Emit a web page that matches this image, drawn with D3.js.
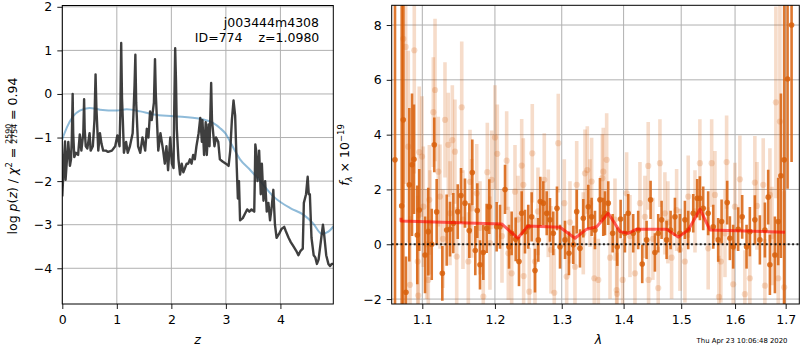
<!DOCTYPE html>
<html><head><meta charset="utf-8">
<script src="https://cdn.jsdelivr.net/npm/d3@7"></script>
<style>body{margin:0;background:#fff} text{font-family:"DejaVu Sans",sans-serif}</style>
</head><body><svg id="c" width="800" height="350"></svg>
<script>
// ---------- data: left panel (redshift PDF) ----------
const zGrid = [0.00,0.03,0.05,0.06,0.08,0.11,0.14,0.16,0.175,0.19,0.20,0.22,0.25,0.29,0.32,0.35,0.385,0.40,0.41,0.43,0.46,0.50,0.52,0.56,0.59,0.61,0.625,0.66,0.69,0.72,0.75,0.80,0.84,0.91,0.97,1.01,1.05,1.065,1.08,1.095,1.11,1.13,1.17,1.20,1.24,1.29,1.31,1.325,1.34,1.355,1.39,1.43,1.47,1.52,1.55,1.58,1.61,1.64,1.68,1.70,1.715,1.76,1.80,1.85,1.88,1.91,1.94,1.98,2.01,2.04,2.05,2.07,2.085,2.10,2.13,2.16,2.19,2.22,2.25,2.28,2.31,2.34,2.37,2.40,2.43,2.46,2.50,2.53,2.56,2.57,2.60,2.63,2.65,2.68,2.70,2.715,2.73,2.745,2.79,2.82,2.86,2.89,2.94,3.00,3.05,3.08,3.11,3.14,3.17,3.20,3.22,3.24,3.26,3.31,3.35,3.39,3.43,3.47,3.52,3.53,3.54,3.555,3.58,3.61,3.64,3.66,3.69,3.72,3.75,3.78,3.81,3.84,3.87,3.90,3.93,3.98,4.02,4.07,4.10,4.15,4.19,4.24,4.29,4.33,4.37,4.41,4.43,4.47,4.50,4.52,4.54,4.57,4.61,4.64,4.67,4.70,4.74,4.78,4.80,4.84,4.88,4.91,4.94,4.97];
const logPz = [-2.35,-1.5,-1.09,-1.97,-1.6,-1.1,-1.65,-1.5,-1.0,0.0,-0.9,-1.45,-1.35,-1.4,-0.93,-1.3,-0.9,-0.12,-0.8,-1.2,-1.25,-0.9,-1.3,-1.2,-0.6,0.45,-0.3,-1.3,-0.9,-1.15,-1.3,-1.3,-1.33,-1.3,-1.2,-0.95,-1.2,-0.4,1.17,-0.1,-0.6,-1.35,-1.1,-1.35,-1.2,-0.9,-0.3,0.2,0.9,-0.2,-1.2,-1.35,-1.0,-1.3,-0.8,-1.0,-0.4,-0.6,-0.2,0.8,0.0,-1.3,-0.9,-1.3,-1.6,-1.2,-1.75,-1.0,-1.6,-1.7,-0.6,1.05,0.3,-0.8,-1.5,-1.85,-1.6,-1.8,-1.7,-1.6,-1.6,-1.5,-1.6,-1.4,-1.5,-1.2,-0.9,-0.55,-1.1,-0.6,-1.4,-0.65,-1.4,-0.7,-1.2,-0.5,0.25,-0.6,-1.2,-1.0,-1.1,-1.5,-1.55,-1.6,-1.65,-1.3,-0.6,-0.15,-0.5,-1.7,-2.4,-2.0,-2.9,-2.85,-2.75,-2.65,-2.7,-2.65,-2.7,-2.0,-1.16,-1.3,-2.0,-1.3,-2.3,-1.6,-2.45,-2.0,-2.7,-2.5,-2.9,-2.6,-2.2,-3.0,-3.3,-3.2,-3.1,-3.05,-3.15,-3.3,-3.4,-3.5,-3.6,-3.7,-3.6,-3.55,-2.5,-2.3,-1.9,-2.3,-2.3,-3.3,-3.7,-3.75,-3.9,-3.8,-3.4,-3.0,-3.2,-3.7,-3.9,-3.95,-3.9,-3.9];
const zSmooth = [0,0.02,0.08,0.2,0.32,0.5,0.69,1.0,1.18,1.43,1.67,2.04,2.53,2.77,2.89,3.0,3.1,3.26,3.45,3.63,3.87,4.18,4.42,4.6,4.76,4.88,4.97];
const logPzSmooth = [-1.05,-0.97,-0.78,-0.51,-0.38,-0.32,-0.36,-0.38,-0.35,-0.40,-0.47,-0.51,-0.57,-0.67,-0.78,-0.92,-1.15,-1.5,-1.75,-2.0,-2.35,-2.62,-2.77,-2.97,-3.21,-3.16,-3.04];
const zTicks = [0,1,2,3,4];
const pzTicks = [-4,-3,-2,-1,0,1,2];

// ---------- data: right panel (spectrum) ----------
const darkLam = [1.0646,1.0732,1.0752,1.0787,1.0830,1.0865,1.0891,1.0934,1.0960,1.1036,
1.1079,1.1125,1.1159,1.1191,1.1267,1.1326,1.1371,1.1416,1.1477,1.1522,
1.1577,1.1637,1.1679,1.1721,1.1749,1.1787,1.1834,1.1882,1.1919,1.2025,
1.2073,1.2146,1.2204,1.2243,1.2302,1.2351,1.2391,1.2440,1.2489,1.2540,
1.2590,1.2640,1.2670,1.2716,1.2768,1.2818,1.2869,1.2926,1.2973,1.3051,
1.3113,1.3181,1.3235,1.3287,1.3340,1.3420,1.3474,1.3528,1.3609,1.3663,
1.3691,1.3745,1.3818,1.3894,1.3950,1.4022,1.4078,1.4162,1.4247,1.4316,
1.4391,1.4460,1.4535,1.4593,1.4652,1.4740,1.4811,1.4888,1.4977,1.5067,
1.5127,1.5218,1.5291,1.5340,1.5401,1.5493,1.5587,1.5680,1.5744,1.5850,
1.5901,1.5964,1.6060,1.6137,1.6222,1.6286,1.6384,1.6483,1.6582,1.6648,
1.6682,1.6782,1.6849,1.6903,1.6970,1.7039,1.7121];
const darkFlux = [3.08,1.4,4.54,-1.75,2.17,2.9,3.1,0.34,1.25,-0.39,
0.46,0.0,3.63,1.18,-1.06,0.52,0.55,0.77,1.19,1.78,
1.5,0.5,2.62,-0.23,1.23,-0.75,-0.3,0.58,1.37,0.64,
0.64,2.0,-0.09,0.4,0.18,-0.63,1.13,0.46,0.64,1.0,
-0.96,0.16,1.56,1.5,1.13,0.89,0.4,1.31,-0.09,0.16,
-0.33,-0.02,1.19,-0.15,0.95,1.37,1.0,0.52,1.62,1.0,
1.13,1.5,0.4,-0.09,0.92,0.4,1.13,0.4,0.52,-0.72,
0.16,1.62,-0.3,0.4,0.89,0.16,0.52,1.0,0.4,0.89,
0.52,1.13,1.68,1.68,1.31,1.13,0.64,0.16,0.83,1.52,
0.22,-0.09,0.55,1.0,-0.09,0.46,0.89,0.16,0.52,1.72,
-0.75,-0.39,0.83,2.5,3.08,6.03,8.0];
const darkErr = [12,9,7,1.3,2.8,2.6,2.0,1.8,1.5,1.4,
1.6,1.3,1.0,1.2,1.0,1.3,1.0,1.1,1.0,1.0,
0.9,1.0,1.2,0.9,1.0,0.9,1.0,0.9,1.0,0.9,
0.8,0.9,0.8,0.8,0.8,0.9,0.8,0.8,0.8,0.9,
0.8,0.8,0.9,0.8,0.8,0.8,0.8,0.8,0.8,0.7,
0.8,0.7,0.8,0.7,0.7,0.8,0.7,0.7,0.8,0.7,
0.8,0.8,0.7,0.7,0.7,0.7,0.7,0.7,0.7,0.7,
0.7,0.7,0.7,0.7,0.7,0.7,0.7,0.7,0.7,0.7,
0.7,0.7,0.7,0.8,0.8,0.8,0.8,0.8,0.8,0.8,
0.8,0.8,0.8,0.8,0.8,0.9,0.9,0.9,1.0,1.0,
1.1,1.4,1.6,3.0,7,4.0,5.0];

const lightLam = [1.0752,1.0783,1.0817,1.0839,1.0895,1.0940,1.0947,1.0960,1.0996,1.1013,
1.1058,1.1079,1.1093,1.1102,1.1146,1.1169,1.1213,1.1236,1.1276,1.1303,
1.1348,1.1371,1.1403,1.1439,1.1463,1.1532,1.1549,1.1623,1.1647,1.1670,
1.1741,1.1787,1.1834,1.1891,1.1929,1.1953,1.2001,1.2034,1.2102,1.2170,
1.2194,1.2243,1.2292,1.2336,1.2391,1.2415,1.2420,1.2504,1.2549,1.2590,
1.2635,1.2731,1.2792,1.2834,1.2884,1.2946,1.3040,1.3077,1.3129,1.3208,
1.3235,1.3340,1.3367,1.3404,1.3447,1.3474,1.3517,1.3582,1.3647,1.3663,
1.3719,1.3774,1.3856,1.3884,1.3890,1.3984,1.4051,1.4107,1.4192,1.4277,
1.4362,1.4419,1.4425,1.4500,1.4593,1.4623,1.4710,1.4763,1.4829,1.4918,
1.4977,1.5067,1.5127,1.5250,1.5340,1.5493,1.5558,1.5619,1.5693,1.5730,
1.5808,1.5839,1.5964,1.5997,1.6093,1.6189,1.6286,1.6384,1.6426,1.6549,
1.6582,1.6682,1.6724,1.6802,1.6849,1.6883,1.6970];
const lightFlux = [7.5,7.2,3.56,-1.48,7.08,-0.63,-1.87,3.36,3.2,1.37,
0.0,-1.3,1.62,0.8,4.82,5.63,2.65,1.74,0.2,4.54,
3.63,1.13,3.8,3.38,-0.45,5.0,0.9,-0.63,2.28,1.31,
1.86,0.6,-1.91,2.63,0.04,2.35,3.9,3.3,0.3,3.05,
-0.33,-1.06,1.92,0.9,2.87,2.17,-1.16,-1.73,3.32,-0.63,
1.2,2.35,1.13,-0.2,-1.77,3.69,1.5,-1.18,0.8,-0.82,
2.17,0.4,2.59,2.71,1.5,2.29,-1.24,-1.3,2.41,2.65,
3.08,-0.49,0.9,-1.67,-1.81,-1.3,1.86,0.3,-1.06,1.5,
1.0,2.86,-1.3,0.2,-1.6,2.96,1.13,0.8,-0.49,1.25,
-0.2,-0.63,1.74,1.2,2.96,-0.15,2.96,1.8,-1.92,-0.63,
0.4,3.0,-1.46,1.37,2.37,-1.82,-1.24,2.25,1.4,2.17,
-1.51,1.8,0.3,5.18,-1.24,4.48,-1.57];
const lightErr = [6,5,3.5,2.5,4.5,2.4,2,2.4,2.2,2.2,
2.0,1.9,2.0,1.9,2.0,2.6,2.0,1.9,1.8,2.1,
1.9,1.9,2.0,1.9,1.8,2.4,1.8,1.8,1.9,1.8,
1.8,1.7,1.7,1.8,1.7,1.8,1.9,1.8,1.7,1.8,
1.7,1.6,1.7,1.6,1.7,1.7,1.6,1.6,1.8,1.6,
1.6,1.7,1.6,1.6,1.6,1.8,1.6,1.5,1.5,1.5,
1.6,1.5,1.6,1.6,1.6,1.6,1.5,1.5,1.6,1.6,
1.7,1.5,1.5,1.5,1.5,1.5,1.5,1.5,1.5,1.5,
1.5,1.6,1.5,1.5,1.5,1.6,1.5,1.5,1.5,1.5,
1.5,1.5,1.5,1.5,1.6,1.5,1.6,1.6,1.5,1.5,
1.6,1.7,1.6,1.6,1.6,1.6,1.6,1.7,1.6,1.7,
1.7,1.7,1.8,3.5,2,4.5,3.5];
const modelLam = [1.0723,1.0723,1.2098,1.2332,1.2485,1.2973,1.3208,1.3394,1.3556,1.3745,1.3940,1.4074,1.4221,1.4742,1.4948,1.5128,1.5341,1.5527,1.6986];
const modelFlux = [0.97,0.85,0.74,0.22,0.67,0.62,0.22,0.55,0.64,1.13,0.46,0.4,0.55,0.55,0.26,0.52,1.28,0.52,0.44];
const lamTicks = [1.1,1.2,1.3,1.4,1.5,1.6,1.7];
const fluxTicks = [-2,0,2,4,6,8];

const titleLine1 = "j003444m4308";
const titleId = "ID=774";
const titleZ = "z=1.0980";
const stamp = "Thu Apr 23 10:06:48 2020";

// ---------- drawing ----------
const svg = d3.select('#c');
const FS = 12.5;
const GRID = '#b0b0b0';
const ORANGE = '#d8600c';

function axesFrame(g, x, y, xt, yt, xfmt, yfmt, id) {
  const [x0,x1] = x.range(), [y1,y0] = y.range();
  g.append('clipPath').attr('id', id).append('rect')
    .attr('x', x0).attr('y', y0).attr('width', x1-x0).attr('height', y1-y0);
  const grid = g.append('g');
  xt.forEach(t => grid.append('line').attr('x1', x(t)).attr('x2', x(t)).attr('y1', y0).attr('y2', y1)
    .attr('stroke', GRID).attr('stroke-width', 1));
  yt.forEach(t => grid.append('line').attr('y1', y(t)).attr('y2', y(t)).attr('x1', x0).attr('x2', x1)
    .attr('stroke', GRID).attr('stroke-width', 1));
  const ax = g.append('g').attr('transform', `translate(0,${y1})`)
    .call(d3.axisBottom(x).tickValues(xt).tickFormat(xfmt).tickSize(5).tickPadding(6));
  const ay = g.append('g').attr('transform', `translate(${x0},0)`)
    .call(d3.axisLeft(y).tickValues(yt).tickFormat(yfmt).tickSize(5).tickPadding(5));
  [ax, ay].forEach(a => {
    a.select('.domain').remove();
    a.attr('font-size', FS).attr('font-family', '"DejaVu Sans", sans-serif');
    a.selectAll('line').attr('stroke', '#000').attr('stroke-width', 0.9);
    a.selectAll('text').attr('fill', '#000');
  });
  return {x0,x1,y0,y1};
}

function spine(g, r) {
  g.append('rect').attr('x', r.x0).attr('y', r.y0).attr('width', r.x1-r.x0).attr('height', r.y1-r.y0)
    .attr('fill', 'none').attr('stroke', '#000').attr('stroke-width', 1);
}

// left panel
const gL = svg.append('g');
const xz = d3.scaleLinear().domain([0, 4.97]).range([62.3, 333.3]);
const yp = d3.scaleLinear().domain([-4.82, 2.03]).range([304, 5.5]);
const rL = axesFrame(gL, xz, yp, zTicks, pzTicks, d3.format('d'), d3.format('d'), 'clipL');
const plotL = gL.append('g').attr('clip-path', 'url(#clipL)');
plotL.append('path').datum(d3.range(zSmooth.length))
  .attr('d', d3.line().x(i => xz(zSmooth[i])).y(i => yp(logPzSmooth[i])).curve(d3.curveMonotoneX))
  .attr('fill', 'none').attr('stroke', '#1f77b4').attr('stroke-opacity', 0.5).attr('stroke-width', 2);
plotL.append('path').datum(d3.range(zGrid.length))
  .attr('d', d3.line().x(i => xz(zGrid[i])).y(i => yp(logPz[i])))
  .attr('fill', 'none').attr('stroke', '#2a2a2a').attr('stroke-opacity', 0.9).attr('stroke-width', 2.4)
  .attr('stroke-linejoin', 'round');
spine(gL, rL);
gL.append('text').attr('x', 319).attr('y', 27).attr('text-anchor', 'end').attr('font-size', FS).text(titleLine1);
gL.append('text').attr('x', 242.5).attr('y', 41.5).attr('text-anchor', 'end').attr('font-size', FS).text(titleId);
gL.append('text').attr('x', 319.3).attr('y', 41.5).attr('text-anchor', 'end').attr('font-size', FS).text(titleZ);
gL.append('text').attr('x', xz(2.48)).attr('y', 343.5).attr('text-anchor', 'middle')
  .attr('font-size', FS).attr('font-style', 'italic').text('z');

// right panel
const gR = svg.append('g');
const xl = d3.scaleLog().domain([1.0604, 1.728]).range([391.7, 799.3]);
const yf = d3.scaleLinear().domain([-2.18, 8.72]).range([304, 5.3]);
const rR = axesFrame(gR, xl, yf, lamTicks, fluxTicks, d3.format('.1f'), d3.format('d'), 'clipR');
const plotR = gR.append('g').attr('clip-path', 'url(#clipR)');
function errSeries(lam, flux, err, opacity, bw, r) {
  const g = plotR.append('g');
  const idx = d3.range(lam.length);
  g.selectAll('line.e').data(idx).join('line')
    .attr('x1', i => xl(lam[i])).attr('x2', i => xl(lam[i]))
    .attr('y1', i => yf(flux[i] - err[i])).attr('y2', i => yf(flux[i] + err[i]))
    .attr('stroke', ORANGE).attr('stroke-opacity', opacity).attr('stroke-width', bw);
  g.selectAll('circle').data(idx).join('circle')
    .attr('cx', i => xl(lam[i])).attr('cy', i => yf(flux[i])).attr('r', r)
    .attr('fill', ORANGE).attr('fill-opacity', opacity);
}
errSeries(lightLam, lightFlux, lightErr, 0.22, 3.6, 3.1);
errSeries(darkLam, darkFlux, darkErr, 0.85, 2.6, 2.8);
plotR.append('path').datum(d3.range(modelLam.length))
  .attr('d', d3.line().x(i => xl(modelLam[i])).y(i => yf(modelFlux[i])))
  .attr('fill', 'none').attr('stroke', '#ff0000').attr('stroke-opacity', 0.6).attr('stroke-width', 3)
  .attr('stroke-linejoin', 'round');
plotR.append('line').attr('x1', rR.x0).attr('x2', rR.x1).attr('y1', yf(0)).attr('y2', yf(0))
  .attr('stroke', '#000').attr('stroke-opacity', 0.85).attr('stroke-width', 2).attr('stroke-dasharray', '2,2.4');
spine(gR, rR);
gR.append('text').attr('x', xl(1.3585)).attr('y', 343.5).attr('text-anchor', 'middle')
  .attr('font-size', FS).attr('font-style', 'italic').text('λ');

// rich labels (rotated)
function richLabel(cx, cy, parts) {
  const g = svg.append('g');
  const inner = g.append('g');
  let x = 0;
  parts.forEach(p => {
    if (p.frac) {
      const t1 = inner.append('text').attr('x', x).attr('y', -6).attr('font-size', p.size).text(p.frac[0]);
      const t2 = inner.append('text').attr('x', x).attr('y', 0.8).attr('font-size', p.size).text(p.frac[1]);
      const w = Math.max(t1.node().getComputedTextLength(), t2.node().getComputedTextLength());
      inner.append('line').attr('x1', x).attr('x2', x + w).attr('y1', -4.6).attr('y2', -4.6)
        .attr('stroke', '#000').attr('stroke-width', 0.7);
      x += w;
    } else {
      const t = inner.append('text').attr('x', x).attr('y', p.dy || 0)
        .attr('font-size', p.size || FS).attr('font-style', p.it ? 'italic' : 'normal')
        .attr('xml:space', 'preserve').style('white-space', 'pre').text(p.t);
      x += t.node().getComputedTextLength();
    }
  });
  inner.attr('transform', `translate(${-x/2},0)`);
  g.attr('transform', `translate(${cx},${cy}) rotate(-90)`);
}
richLabel(16.5, 156, [
  {t: 'log '}, {t: 'p', it: true}, {t: '('}, {t: 'z', it: true}, {t: ') / '},
  {t: 'χ', it: true}, {t: '2', size: 8.5, dy: -5}, {t: ' = '},
  {frac: ['2590', '2754'], size: 7.8}, {t: ' = 0.94'}
]);
richLabel(349, 155, [
  {t: 'f', it: true}, {t: 'λ', it: true, size: 8.5, dy: 3}, {t: ' × 10'}, {t: '−19', size: 8.5, dy: -5}
]);

svg.append('text').attr('x', 787.5).attr('y', 342.5).attr('text-anchor', 'end')
  .attr('font-size', 6.9).text(stamp);
</script></body></html>
